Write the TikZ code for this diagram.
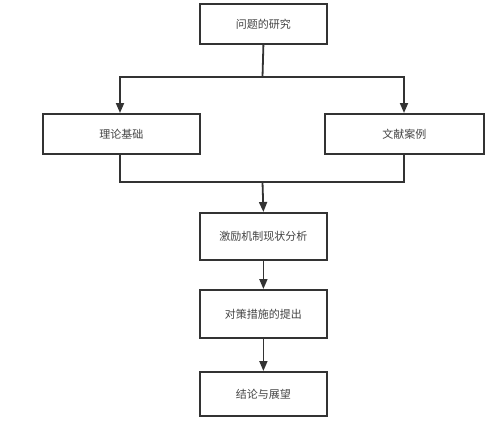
\documentclass[tikz,border=0pt]{standalone}
\usepackage{fontspec}
\newfontfamily\cjk{Noto Sans CJK SC}
\usetikzlibrary{arrows.meta}
\definecolor{ln}{HTML}{333333}
\definecolor{tx}{HTML}{444444}
\begin{document}
\begin{tikzpicture}[x=1pt,y=-1pt,
  box/.style={draw=ln,line width=1.8pt,fill=white,font=\cjk\fontsize{11}{13}\selectfont,text=tx,inner sep=0pt,anchor=north west},
  conn/.style={draw=ln,line width=1.8pt},
  arr/.style={conn,-{Triangle[length=10pt,width=8pt]}}]
\useasboundingbox (0,0) rectangle (497,426);
\node[box,minimum width=127pt,minimum height=40pt] (q) at (199,3) {问题的研究};
\node[box,minimum width=157pt,minimum height=40pt] (l) at (42,113) {理论基础};
\node[box,minimum width=159pt,minimum height=40pt] (r) at (324,113) {文献案例};
\node[box,minimum width=127pt,minimum height=47pt] (m1) at (199,212) {激励机制现状分析};
\node[box,minimum width=127pt,minimum height=48pt] (m2) at (199,289) {对策措施的提出};
\node[box,minimum width=127pt,minimum height=44pt] (m3) at (199,371) {结论与展望};
\coordinate (top) at (262.5,77);
\coordinate (bot) at (262.5,182);
\coordinate (tl) at (120,77);
\coordinate (tr) at (404,77);
\coordinate (bl) at (120,182);
\coordinate (br) at (404,182);
\draw[conn] (q.south) -- (top);
\draw[arr] (top) -- (tl) -- (l.north -| tl);
\draw[arr] (top) -- (tr) -- (r.north -| tr);
\draw[conn] (l.south -| bl) -- (bl) -- (br) -- (r.south -| br);
\draw[arr] (bot) -- (m1.north);
\draw[arr] (m1.south) -- (m2.north);
\draw[arr] (m2.south) -- (m3.north);
\end{tikzpicture}
\end{document}
